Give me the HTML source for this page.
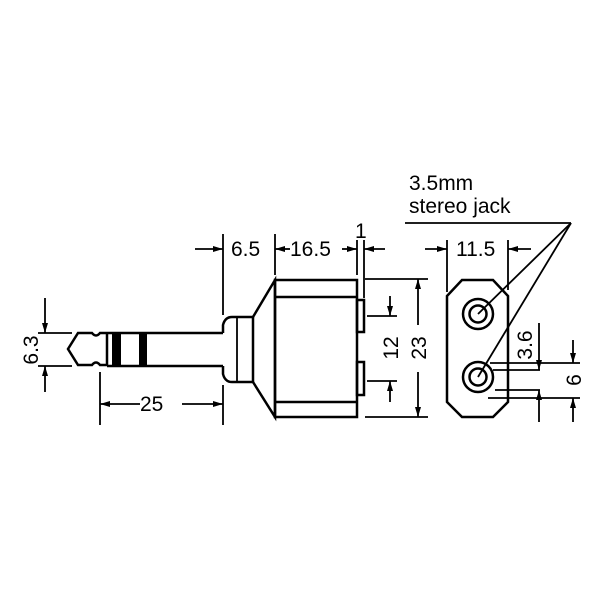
<!DOCTYPE html>
<html><head><meta charset="utf-8"><style>html,body{margin:0;padding:0;background:#fff}svg{display:block}</style></head>
<body>
<svg width="600" height="600" viewBox="0 0 600 600" xmlns="http://www.w3.org/2000/svg">
<defs>
<marker id="a" viewBox="0 0 10 6" refX="10" refY="3" markerWidth="10" markerHeight="6" orient="auto" markerUnits="userSpaceOnUse"><path d="M0,0 L10,3 L0,6 Z" fill="#000"/></marker>
</defs>
<g fill="none" stroke="#000" stroke-width="2.5">
<path d="M107,333 L100,333 Q96,338 92,333 L78,333 L68,349 L78,365 L92,365 Q96,360 100,365 L107,365"/>
<path d="M107,333 L223,333 M107,366 L223,366 M107,333 L107,366"/>
<path d="M223,333 L223,325 Q225,317 232,317 L253,317 L253,382 L232,382 Q225,382 223,374 L223,366"/>
<line x1="237" y1="318" x2="237" y2="381" stroke-width="1.8"/>
<path d="M253,317 L275,280 L275,417 L253,382"/>
<rect x="275" y="280" width="82" height="137"/>
<line x1="275" y1="297" x2="357" y2="297"/>
<line x1="275" y1="402" x2="357" y2="402"/>
<rect x="357" y="300" width="7" height="32"/>
<rect x="357" y="362" width="7" height="33"/>
<path d="M462,280 L493,280 L508,296 L508,402 L493,417 L462,417 L447,402 L447,296 Z"/>
<circle cx="478" cy="314" r="15"/><circle cx="478" cy="314" r="8.5"/>
<circle cx="478" cy="377" r="15"/><circle cx="478" cy="377" r="8.5"/>
</g>
<g fill="#000">
<rect x="112" y="334" width="9" height="31"/>
<rect x="139" y="334" width="8" height="31"/>
</g>
<g fill="none" stroke="#000" stroke-width="1.8">
<line x1="38" y1="333" x2="72" y2="333"/><line x1="38" y1="366" x2="72" y2="366"/>
<line x1="45" y1="298" x2="45" y2="333" marker-end="url(#a)"/>
<line x1="45" y1="392" x2="45" y2="366" marker-end="url(#a)"/>
<line x1="100" y1="372" x2="100" y2="425"/><line x1="223" y1="385" x2="223" y2="425"/>
<line x1="140" y1="404" x2="100" y2="404" marker-end="url(#a)"/>
<line x1="182" y1="404" x2="223" y2="404" marker-end="url(#a)"/>
<line x1="223" y1="234" x2="223" y2="315"/><line x1="275" y1="234" x2="275" y2="275"/>
<line x1="357" y1="240" x2="357" y2="275"/><line x1="364" y1="240" x2="364" y2="298"/>
<line x1="195" y1="249" x2="223" y2="249" marker-end="url(#a)"/>
<line x1="290" y1="249" x2="275" y2="249" marker-end="url(#a)"/>
<line x1="342" y1="249" x2="357" y2="249" marker-end="url(#a)"/>
<line x1="385" y1="249" x2="364" y2="249" marker-end="url(#a)"/>
<line x1="367" y1="316" x2="397" y2="316"/><line x1="367" y1="381" x2="397" y2="381"/>
<line x1="390" y1="296" x2="390" y2="316" marker-end="url(#a)"/>
<line x1="390" y1="402" x2="390" y2="381" marker-end="url(#a)"/>
<line x1="365" y1="279" x2="428" y2="279"/><line x1="365" y1="417" x2="428" y2="417"/>
<line x1="418" y1="325" x2="418" y2="279" marker-end="url(#a)"/>
<line x1="418" y1="372" x2="418" y2="417" marker-end="url(#a)"/>
<line x1="447" y1="240" x2="447" y2="292"/><line x1="508" y1="240" x2="508" y2="290"/>
<line x1="425" y1="249" x2="447" y2="249" marker-end="url(#a)"/>
<line x1="531" y1="249" x2="508" y2="249" marker-end="url(#a)"/>
<line x1="405" y1="223" x2="571" y2="223"/>
<line x1="571" y1="223" x2="478" y2="314"/>
<line x1="571" y1="223" x2="478" y2="377"/>
<line x1="490" y1="363" x2="580" y2="363"/>
<line x1="493" y1="370" x2="540" y2="370"/>
<line x1="495" y1="390" x2="540" y2="390"/>
<line x1="488" y1="398" x2="580" y2="398"/>
<line x1="539" y1="323" x2="539" y2="370" marker-end="url(#a)"/>
<line x1="539" y1="422" x2="539" y2="390" marker-end="url(#a)"/>
<line x1="573" y1="340" x2="573" y2="363" marker-end="url(#a)"/>
<line x1="573" y1="422" x2="573" y2="398" marker-end="url(#a)"/>
</g>
<g font-family="Liberation Sans, sans-serif" font-size="21" fill="#000">
<text x="409" y="190">3.5mm</text>
<text x="409" y="213">stereo jack</text>
<text x="231" y="256">6.5</text>
<text x="290" y="256">16.5</text>
<text x="355" y="238">1</text>
<text x="140" y="411">25</text>
<text x="456" y="256">11.5</text>
<text transform="translate(38,350) rotate(-90)" text-anchor="middle">6.3</text>
<text transform="translate(398,348) rotate(-90)" text-anchor="middle">12</text>
<text transform="translate(426,348) rotate(-90)" text-anchor="middle">23</text>
<text transform="translate(532,345) rotate(-90)" text-anchor="middle">3.6</text>
<text transform="translate(581,380) rotate(-90)" text-anchor="middle">6</text>
</g>
</svg>
</body></html>
